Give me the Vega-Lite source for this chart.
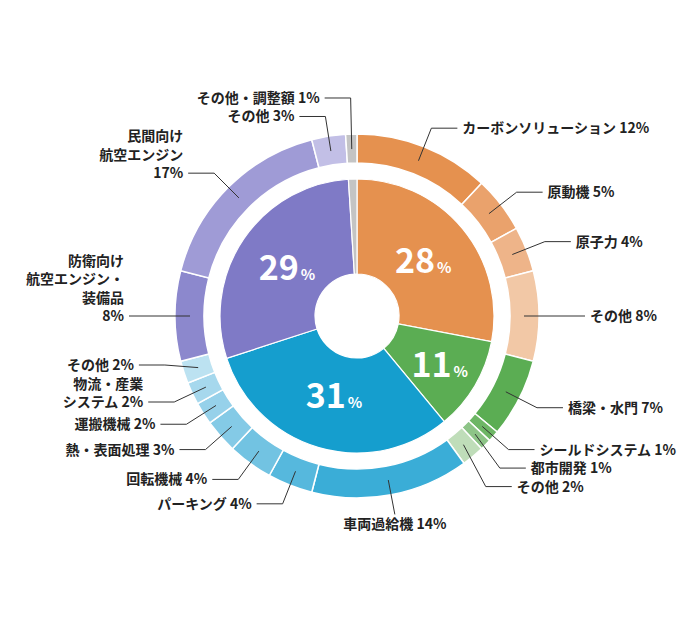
{
  "$schema": "https://vega.github.io/schema/vega-lite/v6.json",
  "width": 686,
  "height": 608,
  "padding": {"left": 14, "top": 12, "right": 0, "bottom": 0},
  "autosize": {"type": "none"},
  "background": "white",
  "config": {"view": {"stroke": null}, "font": "Noto Sans CJK JP"},
  "datasets": {
    "inner": [
      {"group": "資源・エネルギー・環境", "value": 28},
      {"group": "社会基盤", "value": 11},
      {"group": "産業システム・汎用機械", "value": 31},
      {"group": "航空・宇宙・防衛", "value": 29},
      {"group": "その他・調整額", "value": 1}
    ],
    "outer": [
      {"group": "資源・エネルギー・環境", "name": "カーボンソリューション", "value": 12, "label": "カーボンソリューション 12%"},
      {"group": "資源・エネルギー・環境", "name": "原動機", "value": 5, "label": "原動機 5%"},
      {"group": "資源・エネルギー・環境", "name": "原子力", "value": 4, "label": "原子力 4%"},
      {"group": "資源・エネルギー・環境", "name": "その他", "value": 8, "label": "その他 8%"},
      {"group": "社会基盤", "name": "橋梁・水門", "value": 7, "label": "橋梁・水門 7%"},
      {"group": "社会基盤", "name": "シールドシステム", "value": 1, "label": "シールドシステム 1%"},
      {"group": "社会基盤", "name": "都市開発", "value": 1, "label": "都市開発 1%"},
      {"group": "社会基盤", "name": "その他", "value": 2, "label": "その他 2%"},
      {"group": "産業システム・汎用機械", "name": "車両過給機", "value": 14, "label": "車両過給機 14%"},
      {"group": "産業システム・汎用機械", "name": "パーキング", "value": 4, "label": "パーキング 4%"},
      {"group": "産業システム・汎用機械", "name": "回転機械", "value": 4, "label": "回転機械 4%"},
      {"group": "産業システム・汎用機械", "name": "熱・表面処理", "value": 3, "label": "熱・表面処理 3%"},
      {"group": "産業システム・汎用機械", "name": "運搬機械", "value": 2, "label": "運搬機械 2%"},
      {"group": "産業システム・汎用機械", "name": "物流・産業システム", "value": 2, "label": "物流・産業\nシステム 2%"},
      {"group": "産業システム・汎用機械", "name": "その他", "value": 2, "label": "その他 2%"},
      {"group": "航空・宇宙・防衛", "name": "防衛向け航空エンジン・装備品", "value": 8, "label": "防衛向け\n航空エンジン・\n装備品\n8%"},
      {"group": "航空・宇宙・防衛", "name": "民間向け航空エンジン", "value": 17, "label": "民間向け\n航空エンジン\n17%"},
      {"group": "航空・宇宙・防衛", "name": "その他", "value": 3, "label": "その他 3%"},
      {"group": "その他・調整額", "name": "その他・調整額", "value": 1, "label": "その他・調整額 1%"}
    ]
  },
  "resolve": {"scale": {"color": "independent"}},
  "layer": [
    {
      "data": {"name": "inner"},
      "transform": [
        {"window": [{"op": "sum", "field": "value", "as": "cum"}], "frame": [null, 0]},
        {"calculate": "datum.cum - datum.value", "as": "start"},
        {"calculate": "(datum.cum - datum.value / 2) / 100 * 2 * PI", "as": "ang"},
        {"calculate": "datum.value / 100 * PI", "as": "half"},
        {"calculate": "97.9 * sin(datum.half) / datum.half", "as": "rc"},
        {"calculate": "datum.rc * sin(datum.ang)", "as": "nx"},
        {"calculate": "datum.rc * cos(datum.ang)", "as": "ny"},
        {"calculate": "'' + datum.value", "as": "num"}
      ],
      "layer": [
        {
          "mark": {"type": "arc", "outerRadius": 137, "innerRadius": 42, "stroke": "white", "strokeWidth": 1.2},
          "encoding": {
            "theta": {"field": "start", "type": "quantitative", "scale": {"domain": [0, 100]}},
            "theta2": {"field": "cum"},
            "color": {
              "field": "group", "type": "nominal", "legend": null,
              "scale": {
                "domain": ["資源・エネルギー・環境", "社会基盤", "産業システム・汎用機械", "航空・宇宙・防衛", "その他・調整額"],
                "range": ["#E5914F", "#5BAD53", "#159ECE", "#7F7AC6", "#C4C4C4"]
              }
            }
          }
        },
        {
          "transform": [{"filter": "datum.value >= 5"}],
          "mark": {"type": "text", "fontSize": 34, "fontWeight": "bold", "fill": "white", "align": "right", "baseline": "alphabetic", "dx": 12, "dy": 12},
          "encoding": {
            "x": {"field": "nx", "type": "quantitative", "scale": {"domain": [-343, 343], "nice": false}, "axis": null},
            "y": {"field": "ny", "type": "quantitative", "scale": {"domain": [-304, 304], "nice": false}, "axis": null},
            "text": {"field": "num"}
          }
        },
        {
          "transform": [{"filter": "datum.value >= 5"}],
          "mark": {"type": "text", "fontSize": 15, "fontWeight": "bold", "fill": "white", "align": "left", "baseline": "alphabetic", "dx": 14, "dy": 12},
          "encoding": {
            "x": {"field": "nx", "type": "quantitative", "scale": {"domain": [-343, 343], "nice": false}, "axis": null},
            "y": {"field": "ny", "type": "quantitative", "scale": {"domain": [-304, 304], "nice": false}, "axis": null},
            "text": {"value": "%"}
          }
        }
      ]
    },
    {
      "data": {"name": "outer"},
      "transform": [
        {"window": [{"op": "sum", "field": "value", "as": "cum"}], "frame": [null, 0]},
        {"calculate": "datum.cum - datum.value", "as": "start"},
        {"calculate": "datum.cum - datum.value / 2", "as": "mid"},
        {"calculate": "datum.group + '|' + datum.name", "as": "key"},
        {"calculate": "datum.mid / 100 * 2 * PI", "as": "ang"},
        {"calculate": "abs(datum.mid - 50) < 4.5 ? 'B' : (datum.mid < 50 ? 'R' : 'L')", "as": "side"},
        {"calculate": "167 * sin(datum.ang)", "as": "ax"},
        {"calculate": "167 * cos(datum.ang)", "as": "ay"},
        {"calculate": "202 * sin(datum.ang)", "as": "ex"},
        {"calculate": "202 * cos(datum.ang)", "as": "ey0"},
        {"calculate": "18.5 * length(split(datum.label, '\\n'))", "as": "g"},
        {"calculate": "datum.side == 'R' ? -datum.ey0 : datum.ey0", "as": "u"},
        {"window": [{"op": "sum", "field": "g", "as": "cg"}], "groupby": ["side"], "sort": [{"field": "mid"}], "frame": [null, 0]},
        {"calculate": "datum.side == 'L' ? datum.cg - datum.g : datum.cg", "as": "c"},
        {"calculate": "datum.u - datum.c", "as": "t"},
        {"window": [{"op": "max", "field": "t", "as": "mt"}], "groupby": ["side"], "sort": [{"field": "mid"}], "frame": [null, 0]},
        {"calculate": "datum.c + datum.mt", "as": "u2"},
        {"calculate": "datum.side == 'R' ? -datum.u2 : datum.u2", "as": "ey"},
        {"calculate": "datum.side == 'R' ? datum.ex + 26 : (datum.side == 'L' ? datum.ex - 26 : datum.ex)", "as": "hx"},
        {"calculate": "datum.side == 'R' ? datum.hx + 5 : (datum.side == 'L' ? datum.hx - 5 : datum.hx)", "as": "tx"},
        {"calculate": "datum.side == 'B' ? datum.ey - 4 : datum.ey + datum.g - 18.5", "as": "ty"}
      ],
      "layer": [
        {
          "mark": {"type": "arc", "outerRadius": 182, "innerRadius": 153, "stroke": "white", "strokeWidth": 1.5},
          "encoding": {
            "theta": {"field": "start", "type": "quantitative", "scale": {"domain": [0, 100]}},
            "theta2": {"field": "cum"},
            "color": {
              "field": "key", "type": "nominal", "legend": null,
              "scale": {
                "domain": [
                  "資源・エネルギー・環境|カーボンソリューション", "資源・エネルギー・環境|原動機", "資源・エネルギー・環境|原子力", "資源・エネルギー・環境|その他",
                  "社会基盤|橋梁・水門", "社会基盤|シールドシステム", "社会基盤|都市開発", "社会基盤|その他",
                  "産業システム・汎用機械|車両過給機", "産業システム・汎用機械|パーキング", "産業システム・汎用機械|回転機械", "産業システム・汎用機械|熱・表面処理", "産業システム・汎用機械|運搬機械", "産業システム・汎用機械|物流・産業システム", "産業システム・汎用機械|その他",
                  "航空・宇宙・防衛|防衛向け航空エンジン・装備品", "航空・宇宙・防衛|民間向け航空エンジン", "航空・宇宙・防衛|その他",
                  "その他・調整額|その他・調整額"
                ],
                "range": [
                  "#E5914F", "#EAA26C", "#EEB489", "#F2C8A6",
                  "#5BAD53", "#6DB665", "#8DC487", "#BFDDB9",
                  "#3AADD7", "#56B8DD", "#72C3E2", "#84CAE6", "#96D1EA", "#A6D8ED", "#BCE2F1",
                  "#8C88CD", "#9F9BD6", "#C2BFE6",
                  "#C4C4C4"
                ]
              }
            }
          }
        },
        {
          "mark": {"type": "rule", "color": "#333333", "strokeWidth": 1},
          "encoding": {
            "x": {"field": "ax", "type": "quantitative", "scale": {"domain": [-343, 343], "nice": false}, "axis": null},
            "y": {"field": "ay", "type": "quantitative", "scale": {"domain": [-304, 304], "nice": false}, "axis": null},
            "x2": {"field": "ex"},
            "y2": {"field": "ey"}
          }
        },
        {
          "transform": [{"filter": "datum.side != 'B'"}],
          "mark": {"type": "rule", "color": "#333333", "strokeWidth": 1},
          "encoding": {
            "x": {"field": "ex", "type": "quantitative", "scale": {"domain": [-343, 343], "nice": false}, "axis": null},
            "y": {"field": "ey", "type": "quantitative", "scale": {"domain": [-304, 304], "nice": false}, "axis": null},
            "x2": {"field": "hx"},
            "y2": {"field": "ey"}
          }
        },
        {
          "transform": [{"filter": "datum.side == 'R'"}],
          "mark": {"type": "text", "fontSize": 14, "fontWeight": "bold", "fill": "#222222", "align": "left", "baseline": "bottom", "dy": 8, "lineBreak": "\n", "lineHeight": 18.5},
          "encoding": {
            "x": {"field": "tx", "type": "quantitative", "scale": {"domain": [-343, 343], "nice": false}, "axis": null},
            "y": {"field": "ty", "type": "quantitative", "scale": {"domain": [-304, 304], "nice": false}, "axis": null},
            "text": {"field": "label"}
          }
        },
        {
          "transform": [{"filter": "datum.side == 'L'"}],
          "mark": {"type": "text", "fontSize": 14, "fontWeight": "bold", "fill": "#222222", "align": "right", "baseline": "bottom", "dy": 8, "lineBreak": "\n", "lineHeight": 18.5},
          "encoding": {
            "x": {"field": "tx", "type": "quantitative", "scale": {"domain": [-343, 343], "nice": false}, "axis": null},
            "y": {"field": "ty", "type": "quantitative", "scale": {"domain": [-304, 304], "nice": false}, "axis": null},
            "text": {"field": "label"}
          }
        },
        {
          "transform": [{"filter": "datum.side == 'B'"}],
          "mark": {"type": "text", "fontSize": 14, "fontWeight": "bold", "fill": "#222222", "align": "center", "baseline": "top", "lineBreak": "\n", "lineHeight": 18.5},
          "encoding": {
            "x": {"field": "tx", "type": "quantitative", "scale": {"domain": [-343, 343], "nice": false}, "axis": null},
            "y": {"field": "ty", "type": "quantitative", "scale": {"domain": [-304, 304], "nice": false}, "axis": null},
            "text": {"field": "label"}
          }
        }
      ]
    }
  ]
}
